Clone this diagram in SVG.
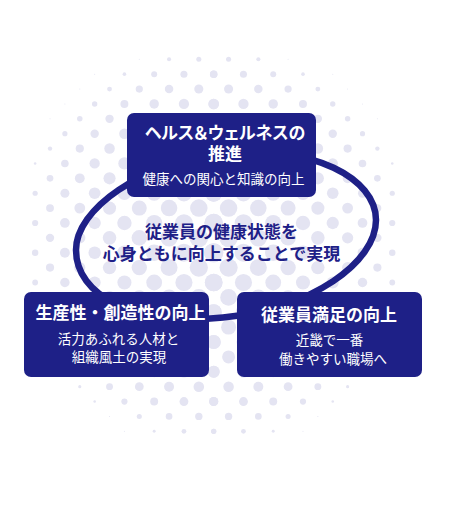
<svg xmlns="http://www.w3.org/2000/svg" xmlns:xlink="http://www.w3.org/1999/xlink" width="450" height="505" viewBox="0 0 450 505">
<defs>
<style>
.d{fill:#e4e4f2}
.box{fill:#1e2087}
.ring{fill:none;stroke:#1e2087;stroke-width:6.5}
.t{font-family:"Noto Sans CJK JP","Noto Sans",sans-serif;text-anchor:middle}
.h{fill:#fff;font-size:17px;font-weight:700}
.s{fill:#fff;font-size:13.5px;font-weight:400}
.c{fill:#1e2087;font-size:17px;font-weight:700}
</style>
<g id="dots-r" class="d">
<circle cx="2" cy="-25" r=".34"/><circle cx="6" cy="-25" r=".275"/><circle cx="10" cy="-25" r=".07"/>
<circle cx="2" cy="-21" r=".61"/><circle cx="6" cy="-21" r=".57"/><circle cx="10" cy="-21" r=".483"/><circle cx="14" cy="-21" r=".326"/><circle cx="18" cy="-21" r=".07"/>
<circle cx="2" cy="-17" r=".794"/><circle cx="6" cy="-17" r=".756"/><circle cx="10" cy="-17" r=".68"/><circle cx="14" cy="-17" r=".56"/><circle cx="18" cy="-17" r=".37"/><circle cx="22" cy="-17" r=".07"/>
<circle cx="2" cy="-13" r=".941"/><circle cx="6" cy="-13" r=".9"/><circle cx="10" cy="-13" r=".822"/><circle cx="14" cy="-13" r=".709"/><circle cx="18" cy="-13" r=".549"/><circle cx="22" cy="-13" r=".293"/>
<circle cx="2" cy="-9" r="1.067"/><circle cx="6" cy="-9" r="1.018"/><circle cx="10" cy="-9" r=".931"/><circle cx="14" cy="-9" r=".813"/><circle cx="18" cy="-9" r=".66"/><circle cx="22" cy="-9" r=".447"/>
<circle cx="2" cy="-5" r="1.178"/><circle cx="6" cy="-5" r="1.11"/><circle cx="10" cy="-5" r="1.006"/><circle cx="14" cy="-5" r=".881"/><circle cx="18" cy="-5" r=".727"/><circle cx="22" cy="-5" r=".527"/>
<circle cx="2" cy="-1" r="1.261"/><circle cx="6" cy="-1" r="1.159"/><circle cx="10" cy="-1" r="1.042"/><circle cx="14" cy="-1" r=".911"/><circle cx="18" cy="-1" r=".756"/><circle cx="22" cy="-1" r=".56"/>
<circle cx="2" cy="3" r="1.225"/><circle cx="6" cy="3" r="1.141"/><circle cx="10" cy="3" r="1.03"/><circle cx="14" cy="3" r=".9"/><circle cx="18" cy="3" r=".746"/><circle cx="22" cy="3" r=".549"/>
<circle cx="2" cy="7" r="1.125"/><circle cx="6" cy="7" r="1.067"/><circle cx="10" cy="7" r=".973"/><circle cx="14" cy="7" r=".851"/><circle cx="18" cy="7" r=".698"/><circle cx="22" cy="7" r=".494"/>
<circle cx="2" cy="11" r="1.006"/><circle cx="6" cy="11" r=".962"/><circle cx="10" cy="11" r=".881"/><circle cx="14" cy="11" r=".765"/><circle cx="18" cy="11" r=".61"/><circle cx="22" cy="11" r=".383"/>
<circle cx="2" cy="15" r=".871"/><circle cx="6" cy="15" r=".831"/><circle cx="10" cy="15" r=".756"/><circle cx="14" cy="15" r=".64"/><circle cx="18" cy="15" r=".471"/><circle cx="22" cy="15" r=".13"/>
<circle cx="2" cy="19" r=".709"/><circle cx="6" cy="19" r=".67"/><circle cx="10" cy="19" r=".59"/><circle cx="14" cy="19" r=".462"/><circle cx="18" cy="19" r=".212"/>
<circle cx="2" cy="23" r=".494"/><circle cx="6" cy="23" r=".447"/><circle cx="10" cy="23" r=".34"/><circle cx="14" cy="23" r=".07"/>
<circle cx="0" cy="-23" r=".5"/><circle cx="4" cy="-23" r=".476"/><circle cx="8" cy="-23" r=".403"/><circle cx="12" cy="-23" r=".245"/><circle cx="16" cy="-23" r=".07"/>
<circle cx="0" cy="-19" r=".713"/><circle cx="4" cy="-19" r=".693"/><circle cx="8" cy="-19" r=".635"/><circle cx="12" cy="-19" r=".534"/><circle cx="16" cy="-19" r=".362"/><circle cx="20" cy="-19" r=".07"/>
<circle cx="0" cy="-15" r=".876"/><circle cx="4" cy="-15" r=".856"/><circle cx="8" cy="-15" r=".799"/><circle cx="12" cy="-15" r=".704"/><circle cx="16" cy="-15" r=".565"/><circle cx="20" cy="-15" r=".348"/>
<circle cx="0" cy="-11" r="1.012"/><circle cx="4" cy="-11" r=".99"/><circle cx="8" cy="-11" r=".926"/><circle cx="12" cy="-11" r=".827"/><circle cx="16" cy="-11" r=".693"/><circle cx="20" cy="-11" r=".51"/><circle cx="24" cy="-11" r=".172"/>
<circle cx="0" cy="-7" r="1.133"/><circle cx="4" cy="-7" r="1.102"/><circle cx="8" cy="-7" r="1.024"/><circle cx="12" cy="-7" r=".916"/><circle cx="16" cy="-7" r=".78"/><circle cx="20" cy="-7" r=".606"/><circle cx="24" cy="-7" r=".348"/>
<circle cx="0" cy="-3" r="1.241"/><circle cx="4" cy="-3" r="1.188"/><circle cx="8" cy="-3" r="1.088"/><circle cx="12" cy="-3" r=".967"/><circle cx="16" cy="-3" r=".827"/><circle cx="20" cy="-3" r=".655"/><circle cx="24" cy="-3" r=".415"/>
<circle cx="0" cy="1" r="1.292"/><circle cx="4" cy="1" r="1.212"/><circle cx="8" cy="1" r="1.102"/><circle cx="12" cy="1" r=".979"/><circle cx="16" cy="1" r=".837"/><circle cx="20" cy="1" r=".665"/><circle cx="24" cy="1" r=".43"/>
<circle cx="0" cy="5" r="1.188"/><circle cx="4" cy="5" r="1.152"/><circle cx="8" cy="5" r="1.061"/><circle cx="12" cy="5" r=".946"/><circle cx="16" cy="5" r=".808"/><circle cx="20" cy="5" r=".635"/><circle cx="24" cy="5" r=".39"/>
<circle cx="0" cy="9" r="1.074"/><circle cx="4" cy="9" r="1.049"/><circle cx="8" cy="9" r=".979"/><circle cx="12" cy="9" r=".876"/><circle cx="16" cy="9" r=".741"/><circle cx="20" cy="9" r=".565"/><circle cx="24" cy="9" r=".286"/>
<circle cx="0" cy="13" r=".946"/><circle cx="4" cy="13" r=".926"/><circle cx="8" cy="13" r=".866"/><circle cx="12" cy="13" r=".769"/><circle cx="16" cy="13" r=".635"/><circle cx="20" cy="13" r=".441"/><circle cx="24" cy="13" r=".07"/>
<circle cx="0" cy="17" r=".799"/><circle cx="4" cy="17" r=".78"/><circle cx="8" cy="17" r=".722"/><circle cx="12" cy="17" r=".624"/><circle cx="16" cy="17" r=".476"/><circle cx="20" cy="17" r=".197"/>
<circle cx="0" cy="21" r=".616"/><circle cx="4" cy="21" r=".595"/><circle cx="8" cy="21" r=".534"/><circle cx="12" cy="21" r=".415"/><circle cx="16" cy="21" r=".172"/>
<circle cx="0" cy="25" r=".348"/><circle cx="4" cy="25" r=".32"/><circle cx="8" cy="25" r=".197"/><circle cx="12" cy="25" r=".07"/>
</g>
</defs>
<rect width="450" height="505" fill="#fff"/>
<g id="halftone" transform="translate(213.7 245.3) scale(7.44)">
<use href="#dots-r" xlink:href="#dots-r"/>
<use href="#dots-r" xlink:href="#dots-r" transform="scale(-1 1)"/>
</g>
<g id="connectors">
<path class="ring" d="M223,317.5 C133,326.5 76,295 76,250 C76,210 139,162 229,153 C312,145 376,178 376,220 C376,262 313,308.5 223,317.5 Z"/>
</g>
<g id="center-message">
<text class="t c" x="221.5" y="238">従業員の健康状態を</text>
<text class="t c" x="221.5" y="260">心身ともに向上することで実現</text>
</g>
<g id="node-health">
<rect class="box" x="127" y="113" width="189" height="84" rx="7"/>
<text class="t h" x="225" y="139" style="font-feature-settings:'palt'">ヘルス＆ウェルネスの</text>
<text class="t h" x="225" y="160">推進</text>
<text class="t s" x="223.5" y="184">健康への関心と知識の向上</text>
</g>
<g id="node-productivity">
<rect class="box" x="24" y="292" width="185" height="85" rx="7"/>
<text class="t h" x="120.5" y="319">生産性・創造性の向上</text>
<text class="t s" x="118.5" y="344">活力あふれる人材と</text>
<text class="t s" x="119" y="361.5">組織風土の実現</text>
</g>
<g id="node-satisfaction">
<rect class="box" x="237" y="292" width="185" height="85" rx="7"/>
<text class="t h" x="329" y="320.5">従業員満足の向上</text>
<text class="t s" x="329.5" y="345">近畿で一番</text>
<text class="t s" x="333" y="363.5">働きやすい職場へ</text>
</g>
</svg>
